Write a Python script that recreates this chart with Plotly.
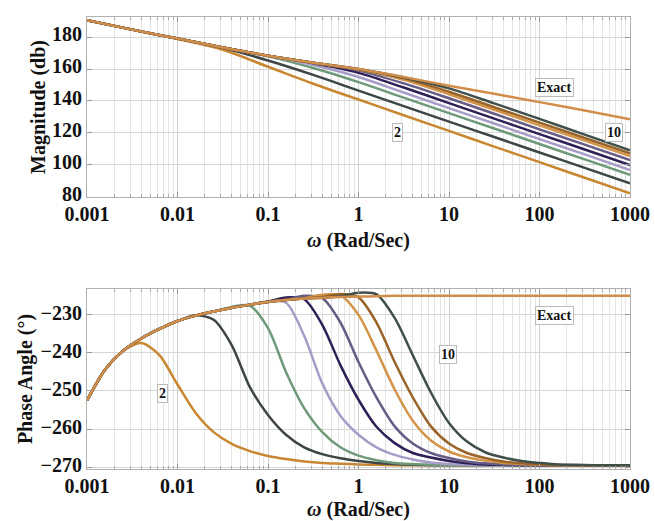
import math
import plotly.graph_objects as go

# ---------------- data ----------------
FREQ_MAG = [0.001, 0.00316, 0.01, 0.0316, 0.1, 0.316, 1, 3.16, 10, 31.6, 100, 316, 1000]

MAG_EXACT = [190.5, 184.6, 179.0, 173.5, 168.3, 163.9, 160.0, 155.0, 149.5, 144.5, 139.3, 134.0, 128.5]
MAG_2 = [190.5, 184.6, 178.8, 172.0, 161.4, 150.8, 140.9, 131.1, 121.3, 111.5, 101.8, 92.0, 82.3]
MAG_3 = [190.5, 184.6, 179.0, 173.2, 165.3, 156.3, 146.5, 136.8, 127.1, 117.5, 107.8, 98.2, 88.5]
MAG_4 = [190.5, 184.6, 179.0, 173.5, 167.9, 160.6, 151.8, 142.1, 132.4, 122.8, 113.1, 103.5, 93.8]
MAG_5 = [190.5, 184.6, 179.0, 173.5, 168.2, 162.5, 155.0, 145.3, 135.5, 125.9, 116.2, 106.6, 96.9]
MAG_6 = [190.5, 184.6, 179.0, 173.5, 168.3, 163.6, 157.6, 148.4, 138.7, 129.0, 119.3, 109.7, 100.0]
MAG_7 = [190.5, 184.6, 179.0, 173.5, 168.3, 163.8, 159.0, 151.0, 141.7, 132.0, 122.3, 112.7, 103.0]
MAG_8 = [190.5, 184.6, 179.0, 173.5, 168.3, 163.9, 159.7, 153.3, 144.2, 134.5, 124.8, 115.2, 105.5]
MAG_9 = [190.5, 184.6, 179.0, 173.5, 168.3, 163.9, 159.9, 154.3, 145.8, 136.1, 126.5, 116.9, 107.3]
MAG_10 = [190.5, 184.6, 179.0, 173.5, 168.3, 163.9, 160.0, 154.7, 147.9, 138.5, 128.8, 119.0, 109.2]

FREQ_PHASE = [0.001, 0.00158, 0.00251, 0.00398, 0.00631, 0.01, 0.0158, 0.0251, 0.0398, 0.0631,
              0.1, 0.158, 0.251, 0.398, 0.631, 1, 1.58, 2.51, 3.98, 6.31,
              10, 15.8, 25.1, 39.8, 63.1, 100, 158, 251, 398, 631, 1000]

PH_EXACT = [-252.5, -244.4, -239.4, -236.2, -233.7, -231.6, -230.2, -229.1, -228.1, -227.3,
            -226.6, -226.1, -225.7, -225.5, -225.3, -225.2, -225.1, -225.0, -225.0, -225.0,
            -225.0, -225.0, -225.0, -225.0, -225.0, -225.0, -225.0, -225.0, -225.0, -225.0, -225.0]
PH_2 = [-252.5, -244.4, -239.5, -237.4, -240.6, -248.3, -255.7, -260.8, -263.9, -265.8,
        -267.1, -267.9, -268.5, -268.9, -269.1, -269.3, -269.4, -269.5, -269.5, -269.5,
        -269.5, -269.5, -269.5, -269.5, -269.5, -269.5, -269.5, -269.5, -269.5, -269.5, -269.5]
PH_3 = [-252.5, -244.4, -239.4, -236.2, -233.7, -231.6, -230.1, -231.3, -238.0, -249.0,
        -256.3, -261.5, -264.8, -266.6, -267.7, -268.4, -268.9, -269.2, -269.4, -269.5,
        -269.5, -269.5, -269.5, -269.5, -269.5, -269.5, -269.5, -269.5, -269.5, -269.5, -269.5]
PH_4 = [-252.5, -244.4, -239.4, -236.2, -233.7, -231.6, -230.2, -229.1, -227.9, -227.6,
        -233.5, -245.0, -254.5, -260.8, -264.8, -267.0, -268.2, -268.9, -269.2, -269.4,
        -269.5, -269.5, -269.5, -269.5, -269.5, -269.5, -269.5, -269.5, -269.5, -269.5, -269.5]
PH_5 = [-252.5, -244.4, -239.4, -236.2, -233.7, -231.6, -230.2, -229.1, -228.1, -227.3,
        -226.5, -226.8, -235.5, -248.0, -256.5, -261.5, -264.8, -266.8, -268.0, -268.8,
        -269.2, -269.4, -269.5, -269.5, -269.5, -269.5, -269.5, -269.5, -269.5, -269.5, -269.5]
PH_6 = [-252.5, -244.4, -239.4, -236.2, -233.7, -231.6, -230.2, -229.1, -228.1, -227.3,
        -226.5, -225.4, -225.9, -232.6, -243.2, -252.3, -259.4, -263.7, -266.3, -267.5,
        -268.4, -269.0, -269.3, -269.4, -269.5, -269.5, -269.5, -269.5, -269.5, -269.5, -269.5]
PH_7 = [-252.5, -244.4, -239.4, -236.2, -233.7, -231.6, -230.2, -229.1, -228.1, -227.3,
        -226.6, -226.0, -225.0, -225.6, -232.0, -242.4, -251.7, -259.3, -263.8, -266.3,
        -267.6, -268.5, -269.0, -269.3, -269.4, -269.5, -269.5, -269.5, -269.5, -269.5, -269.5]
PH_8 = [-252.5, -244.4, -239.4, -236.2, -233.7, -231.6, -230.2, -229.1, -228.1, -227.3,
        -226.6, -226.1, -225.6, -224.7, -224.9, -230.0, -239.4, -249.6, -257.8, -263.0,
        -265.9, -267.4, -268.3, -268.9, -269.2, -269.4, -269.5, -269.5, -269.5, -269.5, -269.5]
PH_9 = [-252.5, -244.4, -239.4, -236.2, -233.7, -231.6, -230.2, -229.1, -228.1, -227.3,
        -226.6, -226.1, -225.7, -225.3, -224.5, -225.4, -232.0, -242.4, -251.7, -259.3,
        -263.8, -266.3, -267.6, -268.5, -269.0, -269.3, -269.4, -269.5, -269.5, -269.5, -269.5]
PH_10 = [-252.5, -244.4, -239.4, -236.2, -233.7, -231.6, -230.2, -229.1, -228.1, -227.3,
         -226.6, -226.1, -225.7, -225.5, -225.1, -224.2, -224.6, -230.8, -240.6, -250.4,
         -258.4, -263.3, -266.1, -267.5, -268.4, -268.9, -269.3, -269.4, -269.5, -269.5, -269.5]

ORDERS = ["2", "3", "4", "5", "6", "7", "8", "9", "10"]
MAGS = [MAG_2, MAG_3, MAG_4, MAG_5, MAG_6, MAG_7, MAG_8, MAG_9, MAG_10]
PHASES = [PH_2, PH_3, PH_4, PH_5, PH_6, PH_7, PH_8, PH_9, PH_10]
COLORS = ["#C8862F", "#3D4545", "#6E9A7A", "#A69CC8", "#2E1F56",
          "#675C86", "#D39449", "#9A6428", "#3F4F49"]
EXACT_COLOR = "#D08E4A"

X_TICKS = [0.001, 0.01, 0.1, 1, 10, 100, 1000]
X_TICKTEXT = ["0.001", "0.01", "0.1", "1", "10", "100", "1000"]
MAG_TICKS = [80, 100, 120, 140, 160, 180]
PH_TICKS = [-270, -260, -250, -240, -230]
PH_TICKTEXT = ["\u2212270", "\u2212260", "\u2212250", "\u2212240", "\u2212230"]

# ---------------- figure ----------------
FONT = "Liberation Serif, Times New Roman, serif"
fig = go.Figure()

for name, m, c in zip(ORDERS, MAGS, COLORS):
    fig.add_trace(go.Scatter(x=FREQ_MAG, y=m, mode="lines", name=name,
                             line=dict(color=c, width=2.5, shape="spline", smoothing=0.9),
                             xaxis="x", yaxis="y"))
fig.add_trace(go.Scatter(x=FREQ_MAG, y=MAG_EXACT, mode="lines", name="Exact",
                         line=dict(color=EXACT_COLOR, width=2.5, shape="spline", smoothing=0.9),
                         xaxis="x", yaxis="y"))

for name, p, c in zip(ORDERS, PHASES, COLORS):
    fig.add_trace(go.Scatter(x=FREQ_PHASE, y=p, mode="lines", name=name,
                             line=dict(color=c, width=2.5, shape="spline", smoothing=0.8),
                             xaxis="x2", yaxis="y2"))
fig.add_trace(go.Scatter(x=FREQ_PHASE, y=PH_EXACT, mode="lines", name="Exact",
                         line=dict(color=EXACT_COLOR, width=2.5, shape="spline", smoothing=0.8),
                         xaxis="x2", yaxis="y2"))

minor_vals = [k * 10.0 ** e for e in range(-3, 3) for k in range(2, 10)]

def xaxis(anchor):
    return dict(type="log", range=[-3, 3], anchor=anchor, domain=[0, 1], automargin=False,
                tickvals=X_TICKS, ticktext=X_TICKTEXT,
                tickfont=dict(family=FONT, size=20, color="#111", weight="bold"),
                showgrid=True, gridcolor="#cfcfcf", gridwidth=1,
                minor=dict(tickvals=minor_vals, showgrid=True, gridcolor="#e4e4e4",
                           gridwidth=1, ticks="inside", ticklen=3, tickcolor="#aaaaaa"),
                ticks="inside", ticklen=5, tickcolor="#999999",
                showline=True, linecolor="#b0b0b0", linewidth=1, mirror="allticks",
                zeroline=False, ticklabelstandoff=-1,
                title=dict(text="<i>\u03c9</i> (Rad/Sec)",
                           font=dict(family=FONT, size=20, color="#111", weight="bold"),
                           standoff=9))

fig.update_layout(
    width=655, height=521,
    margin=dict(l=87, r=25, t=17, b=52, autoexpand=False),
    paper_bgcolor="white", plot_bgcolor="white",
    showlegend=False,
    xaxis=xaxis("y"),
    xaxis2=xaxis("y2"),
    yaxis=dict(domain=[0.6018, 1.0], range=[80, 192.5], anchor="x", automargin=False,
               tickvals=MAG_TICKS,
               tickfont=dict(family=FONT, size=20, color="#111", weight="bold"),
               showgrid=True, gridcolor="#d6d6d6",
               ticks="inside", ticklen=5, tickcolor="#999999",
               showline=True, linecolor="#b0b0b0", linewidth=1, mirror="allticks",
               zeroline=False, ticklabelstandoff=0, ticklabelshift=-3,
               title=dict(text="Magnitude (db)",
                          font=dict(family=FONT, size=20, color="#111", weight="bold"),
                          standoff=0)),
    yaxis2=dict(domain=[0.0, 0.3982], range=[-270.5, -223.2], anchor="x2", automargin=False,
                tickvals=PH_TICKS, ticktext=PH_TICKTEXT,
                tickfont=dict(family=FONT, size=20, color="#111", weight="bold"),
                showgrid=True, gridcolor="#d6d6d6",
                ticks="inside", ticklen=5, tickcolor="#999999",
                showline=True, linecolor="#b0b0b0", linewidth=1, mirror="allticks",
                zeroline=False, ticklabelstandoff=0, ticklabelshift=-2,
                title=dict(text="Phase Angle (\u00b0)",
                           font=dict(family=FONT, size=20, color="#111", weight="bold"),
                           standoff=2)),
)

LABEL_FONT = dict(family=FONT, size=14, color="#111", weight="bold")

def label(text, x, y, xr, yr):
    fig.add_annotation(text=text, x=x, y=y, xref=xr, yref=yr, showarrow=False,
                       font=LABEL_FONT, bgcolor="white", bordercolor="#bbbbbb",
                       borderwidth=1, borderpad=1)

label("Exact", math.log10(148), 148.4, "x", "y")
label("10", math.log10(665), 120.3, "x", "y")
label("2", math.log10(2.73), 120.2, "x", "y")
label("Exact", math.log10(148), -230.1, "x2", "y2")
label("10", math.log10(9.8), -240.4, "x2", "y2")
label("2", math.log10(0.00679), -250.6, "x2", "y2")

fig.write_html("out.html", config={"displayModeBar": False},
               post_script="document.body.style.margin='0';document.body.style.padding='0';")
